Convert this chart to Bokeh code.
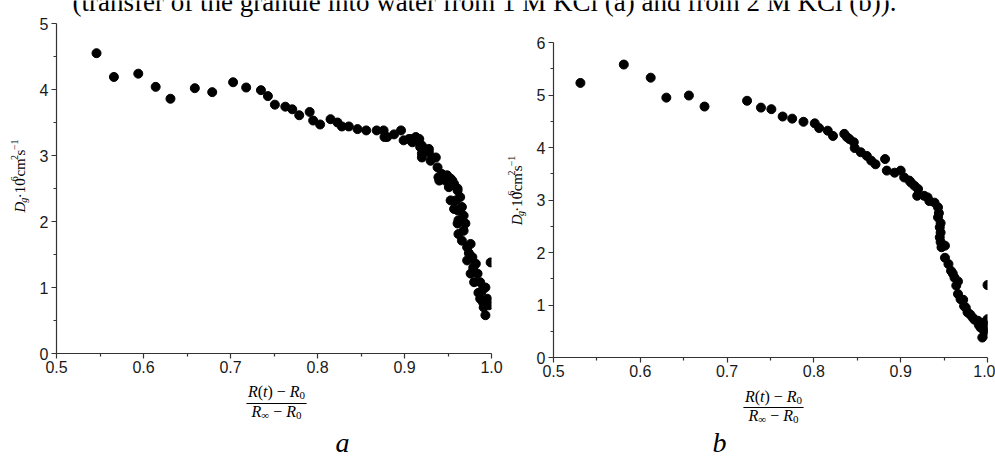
import math
from bokeh.plotting import figure
from bokeh.layouts import column, row
from bokeh.models import Label, BoxAnnotation, FixedTicker, Range1d, PrintfTickFormatter
from bokeh.embed import file_html
from bokeh.resources import INLINE

# ---------------- data ----------------
caption_text = "(transfer of the granule into water from 1 M KCl (a) and from 2 M KCl (b))."

x_ticks = [0.5, 0.6, 0.7, 0.8, 0.9, 1.0]
x_minor = [0.55, 0.65, 0.75, 0.85, 0.95]
ya_ticks = [0, 1, 2, 3, 4, 5]
ya_minor = [0.5, 1.5, 2.5, 3.5, 4.5]
yb_ticks = [0, 1, 2, 3, 4, 5, 6]
yb_minor = [0.5, 1.5, 2.5, 3.5, 4.5, 5.5]

# panel a: transfer from 1 M KCl
xa = [0.546, 0.566, 0.594, 0.614, 0.631, 0.659, 0.679, 0.703, 0.718, 0.735,
      0.743, 0.751, 0.763, 0.771, 0.779, 0.791, 0.795, 0.803, 0.815, 0.823,
      0.828, 0.836, 0.846, 0.856, 0.868, 0.876, 0.877, 0.880, 0.888, 0.896,
      0.899, 0.905, 0.907, 0.909, 0.913, 0.916, 0.917, 0.918, 0.920, 0.920,
      0.920, 0.928, 0.928, 0.930, 0.936, 0.938, 0.939, 0.940, 0.943, 0.947,
      0.949, 0.951, 0.953, 0.955, 0.957, 0.961, 0.961, 0.953, 0.959, 0.964,
      0.957, 0.961, 0.966, 0.968, 0.962, 0.970, 0.961, 0.962, 0.968, 0.966,
      0.972, 0.976, 0.972, 0.978, 0.982, 0.976, 0.984, 0.980, 0.987, 0.989,
      0.993, 0.987, 0.995, 0.991, 0.997, 0.993, 0.999, 0.974, 0.979, 0.985,
      0.990]
ya = [4.55, 4.19, 4.24, 4.04, 3.86, 4.02, 3.96, 4.11, 4.03, 3.99,
      3.90, 3.77, 3.74, 3.70, 3.61, 3.66, 3.53, 3.47, 3.55, 3.50,
      3.44, 3.44, 3.40, 3.38, 3.38, 3.38, 3.28, 3.28, 3.32, 3.38,
      3.23, 3.25, 3.25, 3.20, 3.28, 3.25, 3.25, 3.13, 3.15, 3.03,
      2.97, 3.05, 3.10, 2.92, 2.97, 2.82, 2.67, 2.62, 2.72, 2.62,
      2.70, 2.52, 2.65, 2.62, 2.57, 2.50, 2.47, 2.32, 2.32, 2.37,
      2.19, 2.17, 2.22, 2.09, 2.02, 1.97, 1.97, 1.81, 1.86, 1.71,
      1.61, 1.66, 1.41, 1.46, 1.36, 1.21, 1.21, 1.08, 1.08, 0.95,
      1.00, 0.83, 0.83, 0.70, 0.73, 0.58, 1.38, 1.52, 1.30, 0.92,
      0.78]

# panel b: transfer from 2 M KCl
xb = [0.531, 0.581, 0.612, 0.630, 0.656, 0.674, 0.723, 0.739, 0.751, 0.764,
      0.775, 0.788, 0.801, 0.806, 0.816, 0.822, 0.835, 0.838, 0.841, 0.846,
      0.847, 0.854, 0.861, 0.866, 0.871, 0.882, 0.884, 0.893, 0.900, 0.904,
      0.910, 0.912, 0.916, 0.920, 0.919, 0.927, 0.931, 0.933, 0.939, 0.943,
      0.944, 0.943, 0.946, 0.945, 0.946, 0.945, 0.946, 0.947, 0.951, 0.951,
      0.955, 0.958, 0.960, 0.962, 0.966, 0.964, 0.966, 0.969, 0.972, 0.973,
      0.975, 0.977, 0.980, 0.983, 0.985, 0.989, 0.990, 0.992, 0.996, 0.994,
      0.998, 0.997, 0.995, 1.000, 0.999, 1.000]
yb = [5.23, 5.58, 5.33, 4.95, 4.99, 4.78, 4.89, 4.76, 4.73, 4.59,
      4.55, 4.49, 4.46, 4.37, 4.32, 4.22, 4.26, 4.20, 4.16, 4.10,
      3.99, 3.91, 3.84, 3.75, 3.68, 3.78, 3.56, 3.52, 3.56, 3.43,
      3.37, 3.33, 3.27, 3.21, 3.08, 3.08, 3.05, 2.98, 2.95, 2.86,
      2.75, 2.67, 2.56, 2.48, 2.38, 2.29, 2.20, 2.10, 2.13, 1.90,
      1.78, 1.65, 1.60, 1.52, 1.45, 1.37, 1.21, 1.11, 1.10, 0.98,
      0.95, 0.86, 0.82, 0.76, 0.72, 0.70, 0.62, 0.57, 0.51, 0.38,
      0.45, 0.55, 0.66, 0.73, 0.60, 1.38]

# ---------------- helpers ----------------
SERIF = "Liberation Serif"
SANS = "Liberation Sans"
NB = "\u00a0"
W_REG = {'D': 722, 'g': 500, '·': 250, '1': 500, '0': 500, '6': 500, 'c': 444, 'm': 778,
         '2': 500, 's': 389, '−': 564, 'R': 667, '(': 333, ')': 333, 't': 278, ' ': 250,
         NB: 250, '∞': 713}
W_IT = {'D': 722, 'g': 500, 'R': 611, 't': 278, '∞': 713}


def run_width(text, size, italic):
    tab = W_IT if italic else W_REG
    return sum(tab.get(c, W_REG.get(c, 500)) for c in text) / 1000.0 * size


def runs_width(runs):
    return sum(run_width(t, s, i) for t, s, i, _ in runs)


def lift(size):
    # the annotation's text box sits a little below the requested baseline
    return 5 + 0.1 * size


def strip(x0, y0, w, h):
    """A bare figure whose data coordinates are page pixels (y grows downward)."""
    s = figure(width=w, height=h, output_backend="svg", toolbar_location=None,
               x_range=Range1d(x0, x0 + w), y_range=Range1d(y0 + h, y0),
               x_axis_location=None, y_axis_location=None, min_border=0,
               outline_line_color=None, background_fill_color="white",
               border_fill_color="white")
    s.grid.visible = False
    return s


def put_runs(s, runs, x, y, vertical=False):
    """Horizontal: x = start, y = baseline. Vertical: x = baseline, y = start (bottom)."""
    pos = y if vertical else x
    for text, size, italic, shift in runs:
        d = lift(size)
        if vertical:
            lx, ly = x - shift - d, pos
        else:
            lx, ly = pos, y - shift - d
        s.add_layout(Label(x=lx, y=ly, text=text,
                           angle=(math.pi / 2 if vertical else 0),
                           text_align="left", text_baseline="alphabetic",
                           text_font=SERIF, text_font_size=f"{size}px",
                           text_font_style=("italic" if italic else "normal"),
                           text_color="black"))
        w = run_width(text, size, italic)
        pos = pos - w if vertical else pos + w


def style_axes(p, yt, ym):
    for ax in (p.xaxis[0], p.yaxis[0]):
        ax.axis_line_color = "#333333"
        ax.axis_line_width = 1.2
        ax.major_tick_line_color = "#333333"
        ax.minor_tick_line_color = "#333333"
        ax.major_tick_line_width = 1.2
        ax.minor_tick_line_width = 1.2
        ax.major_tick_in = 0
        ax.major_tick_out = 5
        ax.minor_tick_in = 0
        ax.minor_tick_out = 3
        ax.major_label_text_font = SANS
        ax.major_label_text_font_size = "16px"
        ax.major_label_text_color = "#1a1a1a"
    p.xaxis[0].ticker = FixedTicker(ticks=x_ticks, minor_ticks=x_minor)
    p.xaxis[0].formatter = PrintfTickFormatter(format="%.1f")
    p.xaxis[0].major_label_standoff = 2
    p.yaxis[0].ticker = FixedTicker(ticks=yt, minor_ticks=ym)
    p.yaxis[0].formatter = PrintfTickFormatter(format="%d")
    p.yaxis[0].major_label_standoff = 3
    p.xgrid.visible = False
    p.ygrid.visible = False
    p.outline_line_color = None


def panel(width, height, b_left, b_right, b_top, b_bottom, ymax):
    return figure(width=width, height=height, output_backend="svg", toolbar_location=None,
                  x_range=Range1d(0.5, 1.0), y_range=Range1d(0, ymax),
                  min_border_left=b_left, min_border_right=b_right,
                  min_border_top=b_top, min_border_bottom=b_bottom,
                  background_fill_color="white", border_fill_color="white")


ylabel_runs = [("D", 15, True, 0), ("g", 10, True, -3), ("·10", 15, False, 0),
               ("6", 10, False, 6), ("cm", 15, False, 0), ("2", 10, False, 6),
               ("s", 15, False, 0), ("−1", 10, False, 6)]
num_runs = [("R", 16, True, 0), ("(", 16, False, 0), ("t", 16, True, 0), (")", 16, False, 0),
            (NB + "−" + NB, 16, False, 0), ("R", 16, True, 0), ("0", 11, False, -3)]
den_runs = [("R", 16, True, 0), ("∞", 11, False, -3), (NB + "−" + NB, 16, False, 0),
            ("R", 16, True, 0), ("0", 11, False, -3)]


def fraction(s, cx, num_base, bar_y, den_base):
    nw, dw = runs_width(num_runs), runs_width(den_runs)
    put_runs(s, num_runs, cx - nw / 2, num_base)
    put_runs(s, den_runs, cx - dw / 2, den_base)
    bw = max(nw, dw) + 3
    s.add_layout(BoxAnnotation(left=cx - bw / 2, right=cx + bw / 2,
                               top=bar_y - 0.6, bottom=bar_y + 0.6,
                               fill_color="black", fill_alpha=1.0, line_color=None))


def letter(s, text, cx, base):
    s.add_layout(Label(x=cx, y=base - lift(28), text=text, text_align="center",
                       text_baseline="alphabetic", text_font=SERIF,
                       text_font_size="28px", text_font_style="italic",
                       text_color="black"))


# ---------------- page geometry ----------------
CAP_H = 17
HA = 363   # height of the plot row of panel a
HB = 367   # height of the plot row of panel b

# caption strip (only the lower part of the line is visible)
cap = strip(0, 0, 995, CAP_H)
cap.add_layout(Label(x=72, y=9 - lift(27), text=caption_text, text_align="left",
                     text_baseline="alphabetic", text_font=SERIF,
                     text_font_size="27px", text_color="black"))

# ---- panel a ----
ylab_a = strip(0, CAP_H, 36, HA)
put_runs(ylab_a, ylabel_runs, 26, 225, vertical=True)

pa = panel(469, HA, 20, 14, 23 - CAP_H, HA - (23 - CAP_H) - 330, 5)
style_axes(pa, ya_ticks, ya_minor)
pa.scatter(xa, ya, size=9, marker="circle", fill_color="black", line_color="black")

bot_a = strip(0, CAP_H + HA, 505, 457 - CAP_H - HA)
fraction(bot_a, 276, 398, 403, 418)
letter(bot_a, "a", 342, 450)

# ---- panel b ----
ylab_b = strip(505, CAP_H, 28, HB)
put_runs(ylab_b, ylabel_runs, 523, 230, vertical=True)

pb = panel(462, HB, 20, 8, 42 - CAP_H, HB - (42 - CAP_H) - 315, 6)
style_axes(pb, yb_ticks, yb_minor)
pb.scatter(xb, yb, size=9, marker="circle", fill_color="black", line_color="black")

bot_b = strip(505, CAP_H + HB, 490, 457 - CAP_H - HB)
fraction(bot_b, 773, 403, 407, 422)
letter(bot_b, "b", 719, 450)

col_a = column(row(ylab_a, pa, spacing=0), bot_a, spacing=0)
col_b = column(row(ylab_b, pb, spacing=0), bot_b, spacing=0)
layout = column(cap, row(col_a, col_b, spacing=0), spacing=0)

open("out.html", "w").write(file_html(layout, INLINE))
